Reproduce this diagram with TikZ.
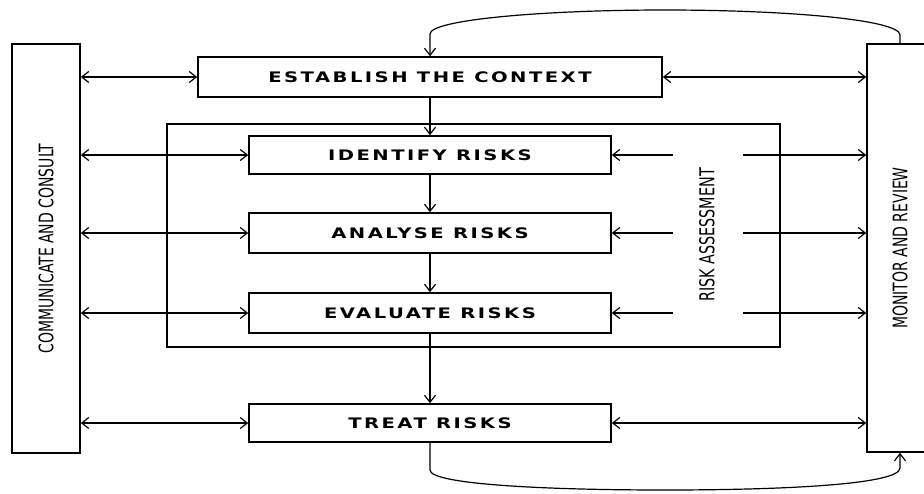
\documentclass[tikz,border=0pt]{standalone}
\usepackage{fontspec}
\usepackage{graphicx}
\usetikzlibrary{arrows.meta}
\newfontfamily\hfont[FakeStretch=1.35,LetterSpace=17]{DejaVu Sans Bold}
\newfontfamily\vfont[FakeStretch=0.7]{DejaVu Sans}
\begin{document}
\begin{tikzpicture}[x=1pt,y=-1pt,
  box/.style={draw,line width=1.6pt,minimum width=362pt,minimum height=38pt,inner sep=0pt,font={\hfont\fontsize{14.5}{16}\selectfont}},
  tall/.style={draw,line width=1.6pt,inner sep=0pt,font={\vfont\fontsize{20}{21}\selectfont}},
  arr/.style={line width=1.2pt,-{Straight Barb[length=7pt,width=11pt]}},
  biarr/.style={line width=1.2pt,{Straight Barb[length=7pt,width=11pt]}-{Straight Barb[length=7pt,width=11pt]}},
]
\useasboundingbox (0,0) rectangle (924,493);
\fill[white] (0,0) rectangle (924,493);
\clip (0,0) rectangle (924,493);
% inner risk assessment frame
\node[draw,line width=1.6pt,minimum width=613pt,minimum height=223pt,inner sep=0pt] (rab) at (473.5,235.5) {};
\node[font={\vfont\fontsize{20.5}{21}\selectfont},rotate=90,inner sep=0pt] (ra) at (707,235) {RISK ASSESSMENT};
% side boxes
\node[tall,minimum width=68pt,minimum height=409pt] (cc) at (46,248.5) {\rotatebox{90}{COMMUNICATE AND CONSULT}};
\node[tall,minimum width=66pt,minimum height=408pt] (mr) at (900,248) {\rotatebox{90}{MONITOR AND REVIEW}};
% process boxes
\node[box,minimum width=464pt,minimum height=40pt] (est) at (430,77) {ESTABLISH THE CONTEXT};
\node[box] (id) at (430,155) {IDENTIFY RISKS};
\node[box,minimum height=40pt] (an) at (430,233) {ANALYSE RISKS};
\node[box,minimum height=40pt] (ev) at (430,313) {EVALUATE RISKS};
\node[box] (tr) at (430,423) {TREAT RISKS};
% gap coordinates around the risk assessment label
\coordinate (gl) at (673,0);
\coordinate (gr) at (743,0);
% vertical flow
\draw[arr] (est) -- (id);
\draw[arr] (id) -- (an);
\draw[arr] (an) -- (ev);
\draw[arr] (ev) -- (tr);
% left connectors
\foreach \n in {est,id,an,ev,tr}{
  \draw[biarr] (cc.east |- \n.west) -- (\n.west);
}
% right connectors
\draw[biarr] (est.east) -- (mr.west |- est.east);
\draw[biarr] (tr.east) -- (mr.west |- tr.east);
\foreach \n in {id,an,ev}{
  \draw[arr] (gl |- \n.east) -- (\n.east);
  \draw[arr] (gr |- \n.east) -- (mr.west |- \n.east);
}
% loops
\draw[arr] (mr.north) -- (900,35) .. controls (900,20) and (790,10) .. (665,10) .. controls (540,10) and (430,20) .. (430,34) -- (est.north);
\draw[arr] (tr.south) -- (430,470) .. controls (430,484) and (540,490) .. (665,490) .. controls (790,490) and (900,484) .. (900,468) -- (mr.south);
\end{tikzpicture}
\end{document}
